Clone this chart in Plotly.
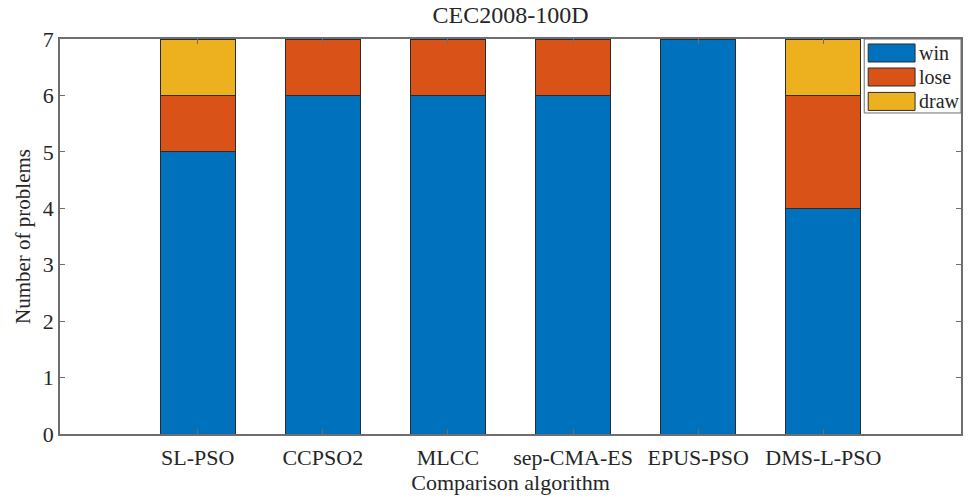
import plotly.graph_objects as go

# Comparison results on the CEC2008 100-D benchmark set
algorithms = ["SL-PSO", "CCPSO2", "MLCC", "sep-CMA-ES", "EPUS-PSO", "DMS-L-PSO"]
positions = [1, 2, 3, 4, 5, 6]
win = [5, 6, 6, 6, 7, 4]
lose = [1, 1, 1, 1, 0, 2]
draw = [1, 0, 0, 0, 0, 1]

series_names = ["win", "lose", "draw"]
series_values = [win, lose, draw]
series_colors = ["#0072BD", "#D95319", "#EDB120"]

FONT = "Liberation Serif"
AXIS_COLOR = "#6e6e6e"
TEXT_COLOR = "#262626"

fig = go.Figure()
for name, vals, col in zip(series_names, series_values, series_colors):
    fig.add_trace(go.Bar(
        x=positions, y=vals, name=name, width=0.6,
        marker=dict(color=col, line=dict(color="#2b2b2b", width=1)),
        showlegend=False,
    ))

# Legend box in the upper-right corner with wide colour swatches
lx0, lx1 = 0.8926, 1.0
box_bottom = 0.8127
row_centers = [0.9646, 0.9038, 0.842]
half_h = 0.0228
fig.add_shape(type="rect", xref="paper", yref="paper",
              x0=lx0, x1=lx1, y0=box_bottom, y1=1.0,
              fillcolor="white", line=dict(color=AXIS_COLOR, width=1), layer="above")
for name, col, yc in zip(series_names, series_colors, row_centers):
    fig.add_shape(type="rect", xref="paper", yref="paper",
                  x0=0.897, x1=0.949, y0=yc - half_h, y1=yc + half_h,
                  fillcolor=col, line=dict(color="#2b2b2b", width=1), layer="above")
    fig.add_annotation(xref="paper", yref="paper", x=0.951, y=yc,
                       text=name, showarrow=False, xanchor="left", yanchor="middle",
                       font=dict(family=FONT, size=20, color=TEXT_COLOR))

fig.update_layout(
    width=969, height=500,
    barmode="stack",
    plot_bgcolor="white", paper_bgcolor="white",
    margin=dict(l=60, r=6, t=39, b=66),
    title=dict(text="CEC2008-100D", x=0.5, xanchor="center", y=0.97, yanchor="middle",
               xref="paper",
               font=dict(family=FONT, size=24, color=TEXT_COLOR)),
    font=dict(family=FONT, size=22, color=TEXT_COLOR),
)
fig.update_xaxes(
    range=[-0.1, 7.1], tickmode="array", tickvals=positions, ticktext=algorithms,
    ticks="inside", ticklen=5, tickcolor=AXIS_COLOR, mirror="ticks",
    showline=True, linecolor=AXIS_COLOR, linewidth=1.5, showgrid=False, zeroline=False,
    ticklabelstandoff=3,
    tickfont=dict(family=FONT, size=22, color=TEXT_COLOR),
    title=dict(text="Comparison algorithm", standoff=5,
               font=dict(family=FONT, size=22, color=TEXT_COLOR)),
)
fig.update_yaxes(
    range=[0, 7], dtick=1,
    ticks="inside", ticklen=5, tickcolor=AXIS_COLOR, mirror="ticks",
    showline=True, linecolor=AXIS_COLOR, linewidth=1.5, showgrid=False, zeroline=False,
    tickfont=dict(family=FONT, size=22, color=TEXT_COLOR),
    title=dict(text="Number of problems", standoff=6,
               font=dict(family=FONT, size=21, color=TEXT_COLOR)),
)

fig.write_html("out.html")
